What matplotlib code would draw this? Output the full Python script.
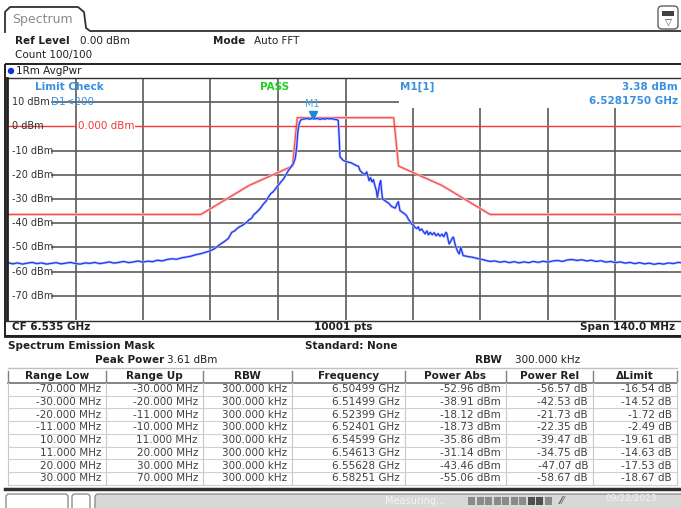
"""
Recreation of an R&S spectrum analyser screenshot (Spectrum Emission Mask)
"""

import matplotlib
matplotlib.use("Agg")
import matplotlib.pyplot as plt
from matplotlib.patches import Rectangle, FancyBboxPatch, Circle

W, H = 681, 508

# --- measurement settings ---
cf_ghz = 6.535
span_mhz = 140.0
top_dbm = 20
bottom_dbm = -80
y_levels = [10, 0, -10, -20, -30, -40, -50, -60, -70]

# --- trace 1 (AvgPwr), offset from CF in MHz, level in dBm ---
trace_mhz = [
    -70.0, -69.0, -68.0, -67.0, -66.0, -65.0, -64.0, -63.0, -62.0, -61.0,
    -60.0, -59.0, -58.0, -57.0, -56.0, -55.0, -54.0, -53.0, -52.0, -51.0,
    -50.0, -49.0, -48.0, -47.0, -46.0, -45.0, -44.0, -43.0, -42.0, -41.0,
    -40.0, -39.0, -38.0, -37.0, -36.0, -35.0, -34.0, -33.0, -32.0, -31.0,
    -30.0, -29.0, -28.0, -27.0, -26.0, -25.0, -24.3, -23.6, -23.0, -22.6,
    -22.0, -21.3, -20.5, -20.0, -19.5, -19.0, -18.5, -18.0, -17.5, -17.0,
    -16.5, -16.0, -15.5, -15.0, -14.3, -13.8, -13.3, -12.9, -12.4, -11.9,
    -11.4, -10.8, -10.4, -10.1, -9.9, -9.6, -9.3, -9.0, -8.5, -8.0,
    -7.5, -7.0, -6.8, -6.3, -5.8, -5.3, -4.8, -4.3, -3.8, -3.3,
    -2.8, -2.3, -1.8, -1.5, -1.3, -1.15, -0.5, 0.0, 0.6, 1.1,
    1.6, 2.3, 2.7, 3.0, 3.7, 4.1, 4.4, 4.7, 4.9, 5.2,
    5.5, 5.8, 6.1, 6.4, 6.6, 6.9, 7.1, 7.3, 7.5, 7.7,
    8.1, 8.6, 9.0, 9.5, 9.9, 10.3, 10.7, 10.95, 11.3, 11.8,
    12.3, 12.7, 13.0, 13.4, 13.7, 14.1, 14.4, 14.8, 15.1, 15.4,
    15.8, 16.2, 16.5, 16.9, 17.2, 17.6, 18.0, 18.4, 18.8, 19.2,
    19.6, 20.0, 20.4, 20.8, 21.0, 21.3, 21.5, 21.9, 22.2, 22.4,
    22.7, 22.9, 23.3, 23.6, 23.9, 24.2, 24.4, 25.0, 25.6, 26.2,
    26.8, 27.4, 27.9, 28.6, 29.3, 30.0, 31.0, 32.0, 33.0, 34.0,
    35.0, 36.0, 37.0, 38.0, 39.0, 40.0, 41.0, 42.0, 43.0, 44.0,
    45.0, 46.0, 47.0, 48.0, 49.0, 50.0, 51.0, 52.0, 53.0, 54.0,
    55.0, 56.0, 57.0, 58.0, 59.0, 60.0, 61.0, 62.0, 63.0, 64.0,
    65.0, 66.0, 67.0, 68.0, 69.0, 70.0,
]
trace_dbm = [
    -56.3, -56.8, -56.4, -56.9, -56.5, -56.2, -56.7, -56.4, -56.9, -56.6,
    -56.3, -56.8, -56.5, -56.2, -56.7, -56.9, -56.4, -56.6, -56.2, -56.7,
    -56.4, -56.0, -56.5, -56.2, -55.8, -56.3, -56.0, -55.6, -56.1, -55.7,
    -55.9, -55.3, -55.6, -55.0, -54.7, -54.9, -54.3, -54.0, -53.6, -53.0,
    -52.6, -52.0, -51.4, -50.3, -48.7, -47.4, -46.3, -43.8, -43.2, -42.4,
    -41.5, -40.8, -39.6, -38.6, -38.0, -36.4, -35.6, -34.6, -33.4, -32.0,
    -31.0, -29.2, -27.8, -27.0, -25.2, -24.0, -22.8, -21.8, -20.2, -18.4,
    -17.0, -15.4, -13.0, -8.0, -2.5, 1.2, 2.6, 2.9, 3.1, 3.3,
    3.0, 3.2, 3.38, 3.1, 3.3, 2.9, 3.2, 3.0, 3.3, 3.1,
    3.2, 2.9, 2.8, 2.4, -5.0, -12.5, -14.0, -14.4, -14.8, -15.0,
    -15.5, -16.2, -16.5, -18.2, -19.6, -19.8, -18.8, -21.0, -22.4, -21.2,
    -23.0, -22.0, -24.5, -26.5, -29.3, -26.0, -23.5, -22.4, -27.0, -30.0,
    -30.6, -31.3, -31.8, -33.0, -33.4, -33.8, -32.0, -31.1, -34.8, -35.5,
    -36.2, -37.0, -38.2, -39.3, -40.3, -40.8, -41.7, -42.2, -41.5, -43.0,
    -42.4, -43.6, -44.4, -43.2, -44.8, -43.8, -44.8, -43.9, -45.2, -44.3,
    -45.4, -44.5, -45.6, -43.8, -44.1, -47.0, -48.6, -47.2, -46.0, -45.8,
    -48.5, -49.9, -51.8, -52.7, -49.9, -52.0, -53.4, -53.6, -53.9, -54.0,
    -54.3, -54.6, -54.8, -55.1, -55.5, -55.8, -55.6, -56.1, -55.8, -56.3,
    -55.9, -56.4, -56.0, -56.3, -55.8, -56.2, -55.7, -56.1, -55.6, -55.4,
    -55.8, -55.2, -55.0, -55.4, -55.1, -55.6, -55.3, -55.8, -55.5, -56.1,
    -55.8, -56.3, -56.0, -56.5, -56.2, -56.7, -56.3, -56.8, -56.5, -57.0,
    -56.6, -56.9, -56.4, -56.7, -56.2, -56.4,
]

# --- SEM limit line (absolute dBm) ---
mask_mhz = [-70, -30, -20, -11, -10, 10, 11, 20, 30, 70]
mask_dbm = [-36.4, -36.4, -24.4, -16.4, 3.6, 3.6, -16.4, -24.4, -36.4, -36.4]

display_line_dbm = 0.0
marker_ghz = 6.5281750
marker_dbm = 3.38

# --- result table ---
col_headers = ["Range Low", "Range Up", "RBW", "Frequency", "Power Abs", "Power Rel", "\u0394Limit"]
range_low = ["-70.000 MHz", "-30.000 MHz", "-20.000 MHz", "-11.000 MHz",
             "10.000 MHz", "11.000 MHz", "20.000 MHz", "30.000 MHz"]
range_up = ["-30.000 MHz", "-20.000 MHz", "-11.000 MHz", "-10.000 MHz",
            "11.000 MHz", "20.000 MHz", "30.000 MHz", "70.000 MHz"]
rbw = ["300.000 kHz"] * 8
freq = ["6.50499 GHz", "6.51499 GHz", "6.52399 GHz", "6.52401 GHz",
        "6.54599 GHz", "6.54613 GHz", "6.55628 GHz", "6.58251 GHz"]
power_abs = ["-52.96 dBm", "-38.91 dBm", "-18.12 dBm", "-18.73 dBm",
             "-35.86 dBm", "-31.14 dBm", "-43.46 dBm", "-55.06 dBm"]
power_rel = ["-56.57 dB", "-42.53 dB", "-21.73 dB", "-22.35 dB",
             "-39.47 dB", "-34.75 dB", "-47.07 dB", "-58.67 dB"]
delta_limit = ["-16.54 dB", "-14.52 dB", "-1.72 dB", "-2.49 dB",
               "-19.61 dB", "-14.63 dB", "-17.53 dB", "-18.67 dB"]

plt.rcParams['font.family'] = ['DejaVu Sans']

fig = plt.figure(figsize=(W / 100, H / 100), dpi=100)
fig.patch.set_facecolor('white')

# plot area in pixels
px0, px1, py0, py1 = 8, 683, 78, 320
ax = fig.add_axes([px0 / W, 1 - py1 / H, (px1 - px0) / W, (py1 - py0) / H])
f_lo = cf_ghz - span_mhz / 2000
f_hi = cf_ghz + span_mhz / 2000
ax.set_xlim(f_lo, f_hi)
ax.set_ylim(bottom_dbm, top_dbm)
ax.set_xticks([])
ax.set_yticks([])
for s in ax.spines.values():
    s.set_visible(False)

# grid
for k in range(1, 10):
    ax.axvline(f_lo + k * span_mhz / 10000, color='#5a5a5a', lw=1.2, zorder=1)
for lev in y_levels:
    if lev == display_line_dbm:
        continue
    ax.axhline(lev, xmin=0.065, color='#5a5a5a', lw=1.2, zorder=1)

# limit line and display line
mask_x = [cf_ghz + m / 1000 for m in mask_mhz]
ax.plot(mask_x, mask_dbm, color='#ffc4c4', lw=2.0, zorder=2)
ax.plot(mask_x, mask_dbm, color='#f05252', lw=0.9, zorder=3)
ax.axhline(display_line_dbm, color='#f03a3a', lw=1.0, zorder=3)

# trace
trace_x = [cf_ghz + m / 1000 for m in trace_mhz]
ax.plot(trace_x, trace_dbm, color='#b4bfff', lw=1.8, zorder=4)
ax.plot(trace_x, trace_dbm, color='#2038f0', lw=0.9, zorder=5)

# marker M1
ax.plot([marker_ghz], [marker_dbm + 1.3], marker='v', ms=5.5, color='#1a8ad8', zorder=6)
ax.text(marker_ghz, marker_dbm + 5.8, "M1", color='#40a8e8', fontsize=7,
        ha='center', va='center', zorder=6)

# overlay in pixel coordinates
ov = fig.add_axes([0, 0, 1, 1], zorder=5)
ov.set_xlim(0, W)
ov.set_ylim(H, 0)
ov.axis('off')
ov.patch.set_visible(False)

fs = 7.5
dark = '#202020'

# tab "Spectrum"
ov.plot([5, 5, 10, 78, 84, 86, 90, 681], [32, 12, 7, 7, 12, 28, 31, 31],
        color='#303030', lw=1.3)
ov.text(12, 19, "Spectrum", color='#8a8a8a', fontsize=9, va='center')
ov.add_patch(FancyBboxPatch((658, 6), 20, 23, boxstyle="round,pad=0,rounding_size=4",
                            fc='white', ec='#606060', lw=1.0))
ov.add_patch(Rectangle((662, 11), 12, 5, fc='#404040', ec='none'))
ov.text(668, 23, "\u25bd", fontsize=6.5, color='#404040', ha='center', va='center')

# header
ov.text(15, 41, "Ref Level", fontsize=fs, fontweight='bold', color=dark, va='center')
ov.text(80, 41, "0.00 dBm", fontsize=fs, color=dark, va='center')
ov.text(213, 41, "Mode", fontsize=fs, fontweight='bold', color=dark, va='center')
ov.text(254, 41, "Auto FFT", fontsize=fs, color=dark, va='center')
ov.text(15, 55, "Count 100/100", fontsize=fs, color=dark, va='center')

# window frame
ov.add_patch(Rectangle((5, 64), 680, 272, fc='none', ec='#202020', lw=1.4))
ov.plot([5, 681], [77.5, 77.5], color='#303030', lw=1.0)
ov.add_patch(Circle((11, 71), 3.2, fc='#1030e0', ec='none'))
ov.text(16, 71, "1Rm AvgPwr", fontsize=fs, color=dark, va='center')
ov.plot([6.5, 6.5], [78, 320], color='#202020', lw=2.0)

# marker info box
ov.add_patch(Rectangle((399, 78.5), 284, 29, fc='white', ec='none'))
blue = '#3a90e0'
ov.text(35, 87, "Limit Check", fontsize=fs, fontweight='bold', color=blue, va='center')
ov.text(51, 102, "D1<200", fontsize=fs, color=blue, va='center')
ov.text(260, 87, "PASS", fontsize=fs, fontweight='bold', color='#20d020', va='center')
ov.text(400, 87, "M1[1]", fontsize=fs, fontweight='bold', color=blue, va='center')
ov.text(678, 87, "3.38 dBm", fontsize=fs, fontweight='bold', color=blue, va='center', ha='right')
ov.text(678, 101, "6.5281750 GHz", fontsize=fs, fontweight='bold', color=blue, va='center', ha='right')

# y labels
for lev in y_levels:
    ypix = py0 + (top_dbm - lev) / (top_dbm - bottom_dbm) * (py1 - py0)
    ov.text(12, ypix, f"{lev} dBm", fontsize=7, color='#303030', va='center', zorder=1)
    if lev == display_line_dbm:
        ov.text(78, ypix, "0.000 dBm", fontsize=7.5, color='#f03a3a', va='center',
                bbox=dict(fc='white', ec='none', pad=0.5))

# bottom info row
ov.plot([5, 681], [320.5, 320.5], color='#303030', lw=1.0)
ov.text(12, 327.5, "CF 6.535 GHz", fontsize=fs, fontweight='bold', color=dark, va='center')
ov.text(343, 327.5, "10001 pts", fontsize=fs, fontweight='bold', color=dark, va='center', ha='center')
ov.text(675, 327.5, "Span 140.0 MHz", fontsize=fs, fontweight='bold', color=dark, va='center', ha='right')
ov.plot([5, 681], [336, 336], color='#202020', lw=2.0)

# SEM result header
ov.text(8, 346, "Spectrum Emission Mask", fontsize=fs, fontweight='bold', color=dark, va='center')
ov.text(305, 346, "Standard: None", fontsize=fs, fontweight='bold', color=dark, va='center')
ov.text(95, 360, "Peak Power", fontsize=fs, fontweight='bold', color=dark, va='center')
ov.text(167, 360, "3.61 dBm", fontsize=fs, color=dark, va='center')
ov.text(475, 360, "RBW", fontsize=fs, fontweight='bold', color=dark, va='center')
ov.text(515, 360, "300.000 kHz", fontsize=fs, color=dark, va='center')

# table
edges = [8, 106, 203, 292, 405, 506, 593, 677]
hdr_top, hdr_bot = 368, 383
row_h = 12.7
columns = [range_low, range_up, rbw, freq, power_abs, power_rel, delta_limit]
n_rows = len(range_low)
tab_bot = hdr_bot + n_rows * row_h
ov.plot([8, 677], [hdr_top, hdr_top], color='#c0c0c0', lw=1.0)
ov.plot([8, 677], [hdr_bot, hdr_bot], color='#707070', lw=1.2)
for i, e in enumerate(edges):
    ov.plot([e, e], [hdr_top + 3, hdr_bot - 2], color='#808080', lw=1.0)
    ov.plot([e, e], [hdr_bot, tab_bot], color='#c8c8c8', lw=0.8)
for c, name in enumerate(col_headers):
    ov.text((edges[c] + edges[c + 1]) / 2, (hdr_top + hdr_bot) / 2 + 0.5, name,
            fontsize=fs, fontweight='bold', color=dark, ha='center', va='center')
for r in range(n_rows):
    yc = hdr_bot + (r + 0.5) * row_h
    ov.plot([8, 677], [hdr_bot + (r + 1) * row_h] * 2, color='#d0d0d0', lw=0.8)
    for c, col in enumerate(columns):
        ov.text(edges[c + 1] - 5, yc, col[r], fontsize=fs, color='#404040',
                ha='right', va='center')

# status bar
ov.plot([5, 681], [489, 489], color='#303030', lw=2.5)
ov.add_patch(FancyBboxPatch((6, 494), 62, 16, boxstyle="round,pad=0,rounding_size=3",
                            fc='white', ec='#909090', lw=1.0))
ov.add_patch(FancyBboxPatch((72, 494), 18, 16, boxstyle="round,pad=0,rounding_size=3",
                            fc='white', ec='#909090', lw=1.0))
ov.add_patch(FancyBboxPatch((95, 494), 590, 16, boxstyle="round,pad=0,rounding_size=3",
                            fc='#d8d8d8', ec='#909090', lw=1.0))
ov.text(385, 501, "Measuring...", fontsize=7, color='#f4f4f4', va='center')
for k in range(10):
    ov.add_patch(Rectangle((468 + k * 8.5, 497), 7, 8,
                           fc='#505050' if k in (7, 8) else '#8a8a8a', ec='none'))
ov.text(560, 501, "\u2044\u2044\u2044", fontsize=7, color='#606060', va='center')
ov.text(605, 498, "09/22/2023", fontsize=6.5, color='#f4f4f4', va='center')

fig.savefig("out.png", dpi=100)
